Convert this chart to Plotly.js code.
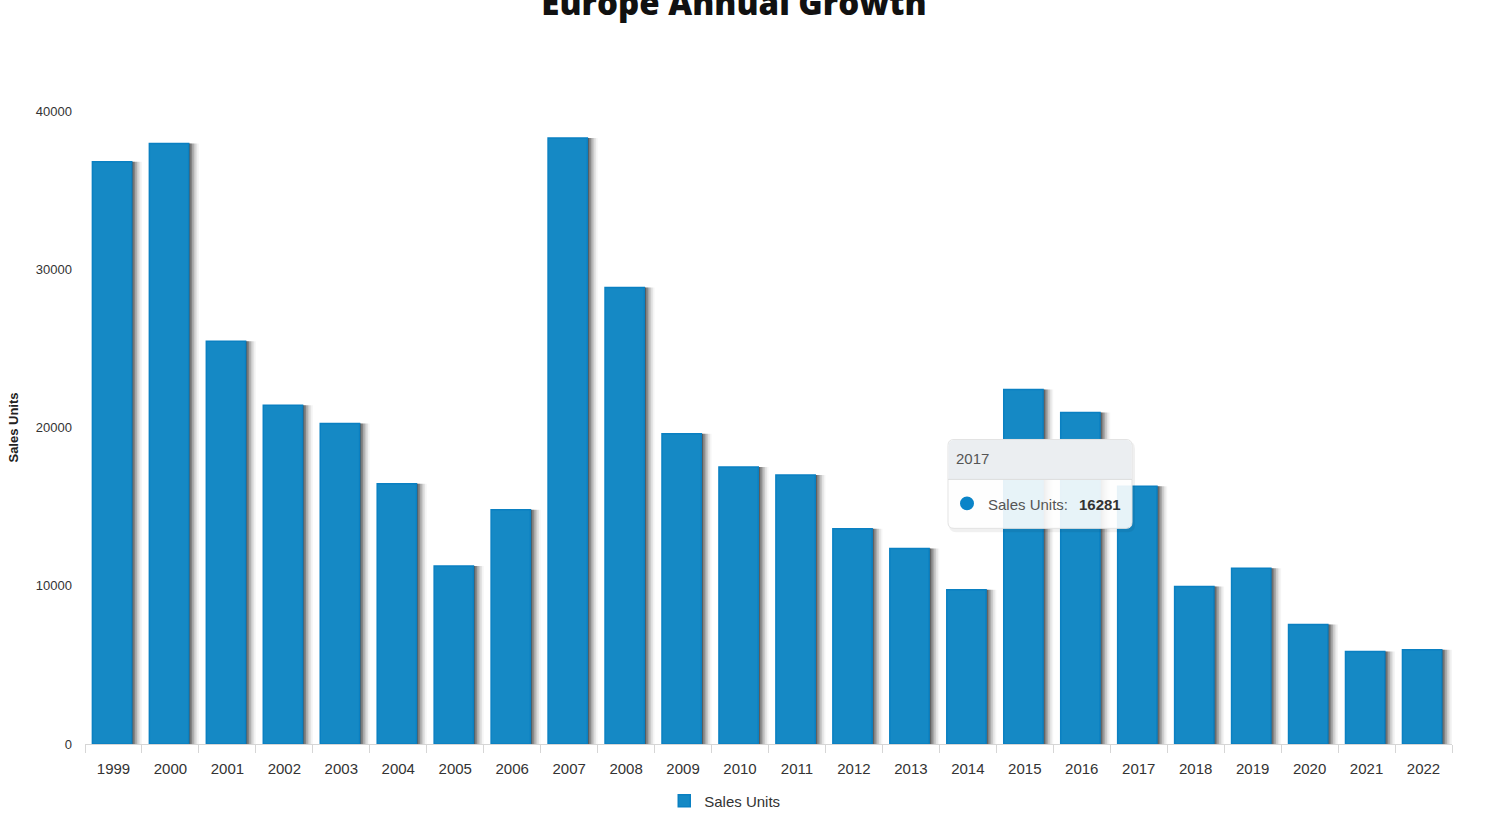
<!DOCTYPE html>
<html>
<head>
<meta charset="utf-8">
<script src="https://cdn.plot.ly/plotly-3.0.1.min.js"></script>
<style>html,body{margin:0;padding:0;background:#fff;}#chart{width:1493px;height:828px;}</style>
</head>
<body>
<div id="chart"></div>
<script>
const years = ['1999','2000','2001','2002','2003','2004','2005','2006','2007','2008','2009','2010','2011','2012','2013','2014','2015','2016','2017','2018','2019','2020','2021','2022'];
const salesUnits = [36800,37950,25450,21400,20250,16450,11250,14800,38300,28850,19600,17500,17000,13600,12350,9750,22400,20950,16281,9950,11100,7550,5850,5950];
const yTicks = [0,10000,20000,30000,40000];
const seriesName = 'Sales Units';
const tooltipYear = '2017';
const tooltipValue = 16281;

const W = 1493, H = 828;
const M = {l:85, r:41, t:111, b:83};
const PW = W - M.l - M.r, PH = H - M.t - M.b;
const px = x => (x - M.l) / PW;
const py = y => (H - M.b - y) / PH;

const barW = 0.69, barOff = -0.37;
const traces = [];
// soft shadow layers
const shadowSteps = [[0.03,0.30],[0.06,0.22],[0.09,0.16],[0.12,0.11],[0.15,0.07],[0.18,0.04]];
shadowSteps.forEach(([dx, a]) => {
  traces.push({
    type:'bar', x: years, y: salesUnits, width: barW, offset: barOff + dx,
    marker:{color:'rgba(0,0,0,'+a+')', line:{width:0}},
    showlegend:false, hoverinfo:'skip'
  });
});
traces.push({
  type:'bar', x: years, y: salesUnits, name: seriesName, width: barW, offset: barOff,
  marker:{color:'#1589c5', line:{color:'#0a80c2', width:1.5}},
  hoverinfo:'none'
});

function rr(x0,y0,x1,y1,r){
  const P = (x,y)=> px(x)+','+py(y);
  return 'M'+P(x0+r,y0)+' L'+P(x1-r,y0)+' Q'+P(x1,y0)+' '+P(x1,y0+r)+
    ' L'+P(x1,y1-r)+' Q'+P(x1,y1)+' '+P(x1-r,y1)+' L'+P(x0+r,y1)+
    ' Q'+P(x0,y1)+' '+P(x0,y1-r)+' L'+P(x0,y0+r)+' Q'+P(x0,y0)+' '+P(x0+r,y0)+' Z';
}
function rrTop(x0,y0,x1,y1,r){
  const P = (x,y)=> px(x)+','+py(y);
  return 'M'+P(x0+r,y0)+' L'+P(x1-r,y0)+' Q'+P(x1,y0)+' '+P(x1,y0+r)+
    ' L'+P(x1,y1)+' L'+P(x0,y1)+' L'+P(x0,y0+r)+' Q'+P(x0,y0)+' '+P(x0+r,y0)+' Z';
}
const tx0=948, ty0=440, tx1=1132, ty1=529;
const shapes = [
  {type:'path', xref:'paper', yref:'paper', layer:'above', path: rr(tx0+1,ty0+2,tx1+3,ty1+4,7), fillcolor:'rgba(0,0,0,0.06)', line:{width:0}},
  {type:'path', xref:'paper', yref:'paper', layer:'above', path: rr(tx0,ty0,tx1,ty1,6), fillcolor:'rgba(255,255,255,0.9)', line:{color:'#e3e3e3', width:1}},
  {type:'path', xref:'paper', yref:'paper', layer:'above', path: rrTop(tx0+0.5,ty0+0.5,tx1-0.5,480,6), fillcolor:'#ebeef1', line:{width:0}},
  {type:'line', xref:'paper', yref:'paper', layer:'above', x0:px(tx0), x1:px(tx1), y0:py(480), y1:py(480), line:{color:'#dddddd', width:1}},
  {type:'circle', xref:'paper', yref:'paper', layer:'above', x0:px(960), x1:px(974), y0:py(497), y1:py(511), fillcolor:'#0a84c8', line:{width:0}}
];
const annotations = [
  {xref:'paper', yref:'paper', x:px(954), y:py(459), xanchor:'left', yanchor:'middle', showarrow:false, text:tooltipYear, font:{family:'Liberation Sans, Arial', size:15, color:'#555'}},
  {xref:'paper', yref:'paper', x:px(986), y:py(505), xanchor:'left', yanchor:'middle', showarrow:false, text:seriesName+':', font:{family:'Liberation Sans, Arial', size:15, color:'#555'}},
  {xref:'paper', yref:'paper', x:px(1077), y:py(505), xanchor:'left', yanchor:'middle', showarrow:false, text:'<b>'+tooltipValue+'</b>', font:{family:'Liberation Sans, Arial', size:15, color:'#333'}}
];

const layout = {
  width: W, height: H,
  margin: M,
  paper_bgcolor:'#fff', plot_bgcolor:'#fff',
  barmode:'overlay',
  title:{text:'Europe Annual Growth', xref:'container', yref:'container', x:734/W, xanchor:'center', y:1-3/H, yanchor:'middle',
    font:{family:'Open Sans', size:33, color:'#111', weight:800}},
  xaxis:{type:'category', showgrid:false, showline:true, linecolor:'#d6d6d6', linewidth:1,
    ticks:'outside', tickson:'boundaries', ticklen:8, tickcolor:'#d6d6d6', tickwidth:1,
    ticklabelstandoff:11,
    tickfont:{family:'Liberation Sans, Arial', size:15, color:'#333'}, automargin:false, fixedrange:true},
  yaxis:{range:[0,40000], tickvals:yTicks, ticktext:yTicks.map(String), showgrid:false, zeroline:false, showline:false,
    ticks:'', ticklabelstandoff:12,
    tickfont:{family:'Liberation Sans, Arial', size:13, color:'#333'}, automargin:false,
    title:{text:'<b>Sales Units</b>', font:{family:'Liberation Sans, Arial', size:13, color:'#222'}, standoff:14}},
  showlegend:true,
  legend:{orientation:'h', x:0.468, xanchor:'center', y:py(801), yanchor:'middle',
    font:{family:'Liberation Sans, Arial', size:15, color:'#333'}, itemwidth:30},
  shapes: shapes,
  annotations: annotations,
  hovermode:false
};
Plotly.newPlot('chart', traces, layout, {displayModeBar:false, staticPlot:true});
</script>
</body>
</html>
